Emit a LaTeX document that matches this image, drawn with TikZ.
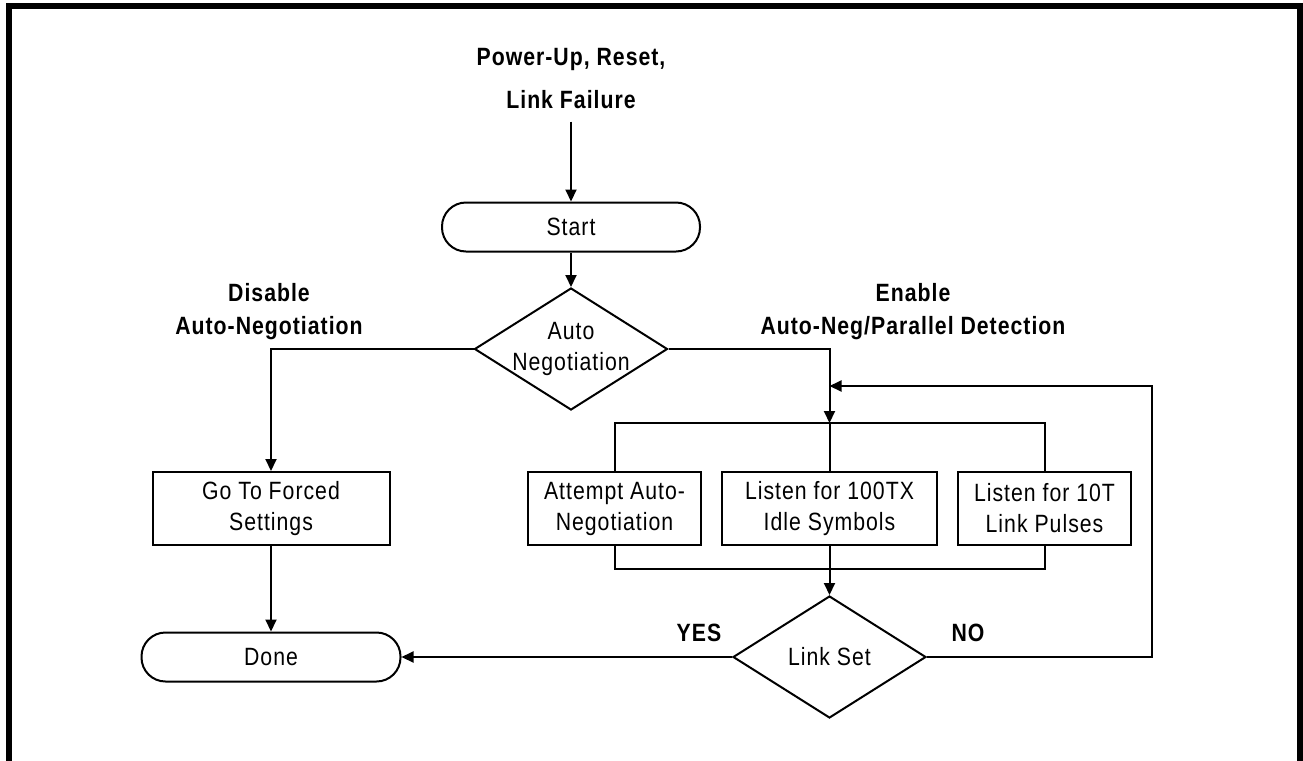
\documentclass[tikz,border=0pt]{standalone}
\usepackage{fontspec}
\setmainfont{Liberation Sans}[FakeStretch=0.85,LetterSpace=4]
\usetikzlibrary{shapes.geometric,arrows.meta}

\begin{document}
\begin{tikzpicture}[x=0.5pt, y=-0.5pt,
    every node/.style={font=\fontsize{12.5}{15.5}\selectfont},
    process/.style={draw, line width=1pt, minimum height=36.5pt, align=center, inner sep=0pt},
    terminal/.style={draw, line width=1pt, rounded corners=12pt, minimum height=24.5pt, inner sep=0pt},
    decision/.style={draw, diamond, line width=1pt, minimum width=96.5pt, minimum height=61pt, inner sep=0pt},
    heading/.style={font=\fontsize{12.5}{16.5}\selectfont\bfseries, align=center, inner sep=0pt},
    flow/.style={line width=1pt, -{Triangle[length=6pt,width=5.5pt]}},
    link/.style={line width=1pt}]
    \useasboundingbox (0,0) rectangle (1303,761);
    \draw[line width=3pt](9,761)--(9,6)--(1300,6)--(1300,761);

    \node[heading, font=\fontsize{12.5}{21.5}\selectfont\bfseries] (power) at (571,79) {Power-Up, Reset,\\Link Failure};
    \node[terminal, minimum width=129pt] (start) at (571,227) {Start};
    \node[decision] (autoneg) at (571,349) {};
    \node[align=center, inner sep=0pt] (autonegtext) at (autoneg) {Auto\\Negotiation};
    \node[heading] (disable) at (269,312) {Disable\\Auto-Negotiation};
    \node[heading] (enable) at (913,312) {Enable\\Auto-Neg/Parallel Detection};
    \node[process, minimum width=118.5pt] (forced) at (271,508.5) {Go To Forced\\Settings};
    \node[terminal, minimum width=129.5pt] (done) at (271,657) {Done};
    \node[process, minimum width=86.5pt] (attempt) at (614.5,508.5) {Attempt Auto-\\Negotiation};
    \node[process, minimum width=107.5pt] (listentx) at (829.5,508.5) {Listen for 100TX\\Idle Symbols};
    \node[process, minimum width=86.5pt] (listent) at (1044.5,508.5) {Listen for 10T\\Link Pulses};
    \node[decision] (linkset) at (829.5,657) {};
    \node[inner sep=0pt] (linksettext) at (linkset) {Link Set};
    \node[heading] (yes) at (699,633) {YES};
    \node[heading] (no) at (968,633) {NO};

    \coordinate (split) at (829.5,423);
    \coordinate (join) at (829.5,569);
    \coordinate (back) at (1152,386);
    \coordinate (feedin) at (829.5,386);

    \draw[flow, shorten <=6pt](power)--(start);
    \draw[flow](start)--(autoneg);
    \draw[flow](autoneg.west)-|(forced.north);
    \draw[flow](forced)--(done);
    \draw[flow](autoneg.east)-|(split);
    \draw[link](attempt.north)--(attempt.north|-split)--(listent.north|-split)--(listent.north);
    \draw[link](split)--(listentx.north);
    \draw[link](attempt.south)--(attempt.south|-join)--(listent.south|-join)--(listent.south);
    \draw[flow](listentx.south)--(linkset.north);
    \draw[flow](linkset.west)--(done.east);
    \draw[flow](linkset.east)-|(back)--(feedin);
\end{tikzpicture}
\end{document}
